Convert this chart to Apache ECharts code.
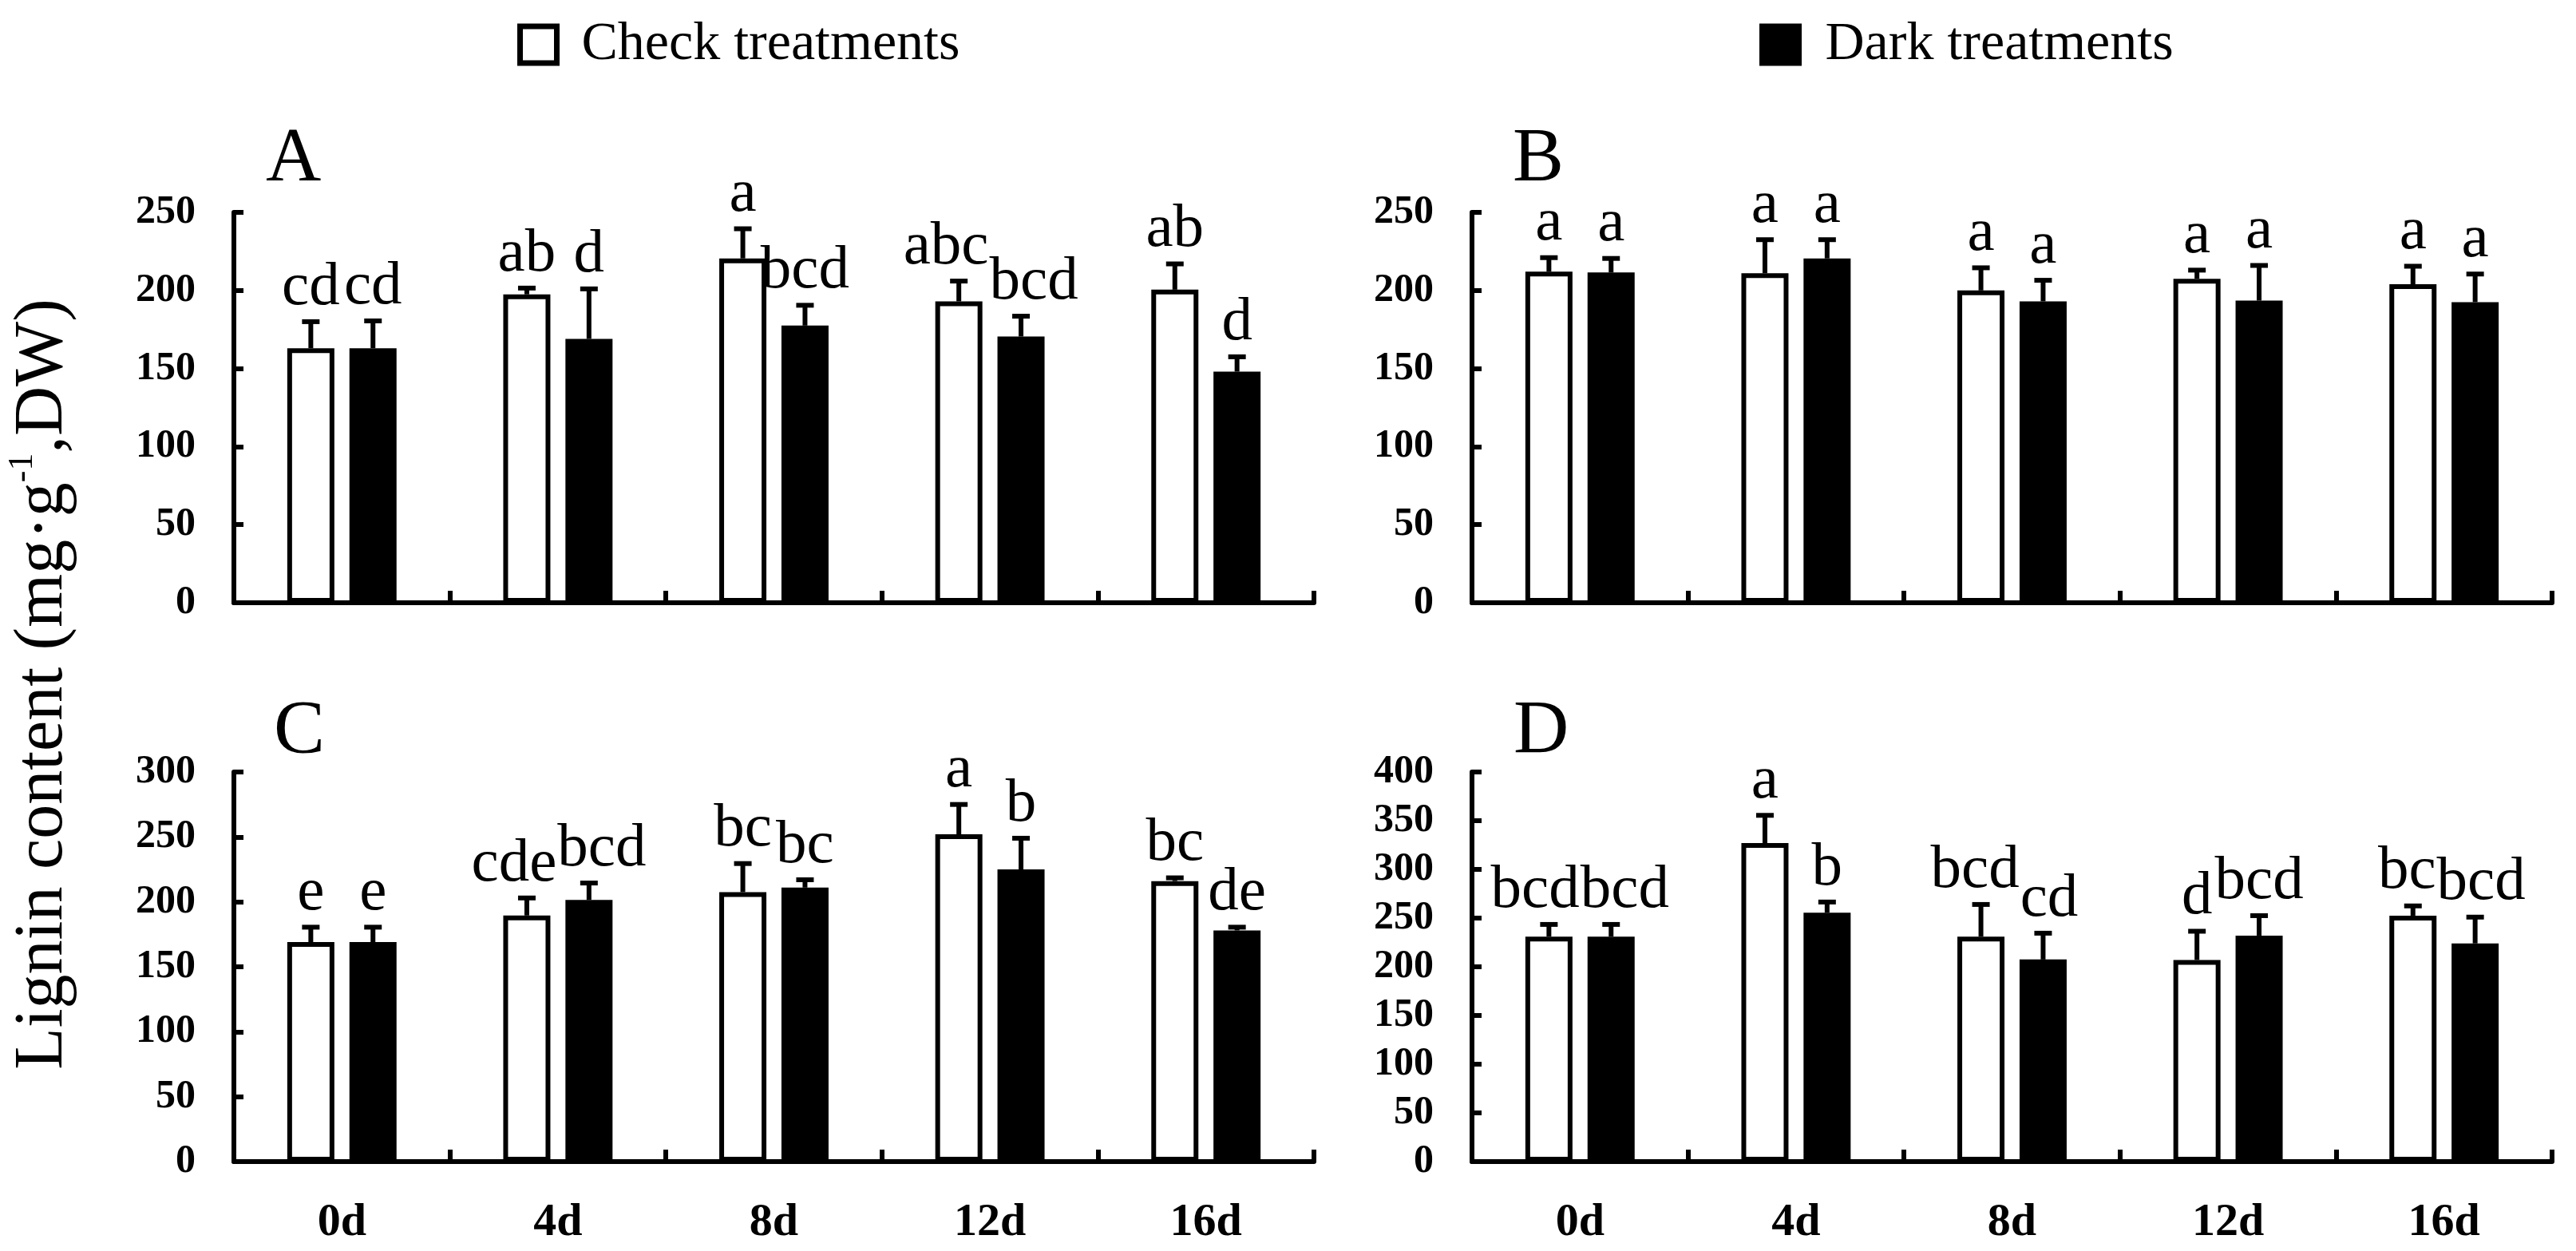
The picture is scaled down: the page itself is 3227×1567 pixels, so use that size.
<!DOCTYPE html>
<html>
<head>
<meta charset="utf-8">
<script src="https://cdn.jsdelivr.net/npm/echarts@6/dist/echarts.min.js"></script>
<style>
html,body{margin:0;padding:0;background:#fff;}
#chart{width:3227px;height:1567px;}
</style>
</head>
<body>
<div id="chart"></div>
<script>
// ---------------- data ----------------
const categories = ['0d', '4d', '8d', '12d', '16d'];
const seriesNames = ['Check treatments', 'Dark treatments'];

// Panel A
const checkA = [163, 197.5, 220.5, 193, 200.5];
const checkErrA = [17, 4, 19, 13, 16.5];
const checkLblA = ['cd', 'ab', 'a', 'abc', 'ab'];
const darkA = [163, 169, 177.5, 170.5, 148];
const darkErrA = [17.5, 32, 13, 13, 9.5];
const darkLblA = ['cd', 'd', 'bcd', 'bcd', 'd'];

// Panel B
const checkB = [212, 211, 200, 207.5, 204];
const checkErrB = [9, 21.5, 14.5, 5.5, 11.5];
const checkLblB = ['a', 'a', 'a', 'a', 'a'];
const darkB = [211.5, 220.5, 193, 193.5, 192.5];
const darkErrB = [9, 12, 13.5, 22.5, 18];
const darkLblB = ['a', 'a', 'a', 'a', 'a'];

// Panel C
const checkC = [169, 189.5, 207.5, 252, 216];
const checkErrC = [11.5, 13.5, 22, 23, 2.5];
const checkLblC = ['e', 'cde', 'bc', 'a', 'bc'];
const darkC = [169, 201.5, 211, 225, 178];
const darkErrC = [11.5, 13, 6, 24, 2.5];
const darkLblC = ['e', 'bcd', 'bc', 'b', 'de'];

// Panel D
const checkD = [231, 327, 231, 207, 252.5];
const checkErrD = [12.5, 28.5, 33, 29.5, 10];
const checkLblD = ['bcd', 'a', 'bcd', 'd', 'bc'];
const darkD = [231, 255.5, 207.5, 232, 224];
const darkErrD = [12.5, 11, 27, 20.5, 27];
const darkLblD = ['bcd', 'b', 'cd', 'bcd', 'bcd'];

const panelLetters = ['A', 'B', 'C', 'D'];
const yMax = [250, 250, 300, 400];
const yInterval = 50;
const yAxisTitle = ['Lignin content (mg·g', '-1', ',DW)'];

// ---------------- style constants ----------------
const FONT = '"Liberation Serif", "Times New Roman", serif';
const BAR_W = 59;
const BAR_GAP = 0.32;
const CAP = 22;
const LW = 6;
const LBL_SIZE = 77;

const panels = [
  {c: checkA, ce: checkErrA, cl: checkLblA, d: darkA, de: darkErrA, dl: darkLblA},
  {c: checkB, ce: checkErrB, cl: checkLblB, d: darkB, de: darkErrB, dl: darkLblB},
  {c: checkC, ce: checkErrC, cl: checkLblC, d: darkC, de: darkErrC, dl: darkLblC},
  {c: checkD, ce: checkErrD, cl: checkLblD, d: darkD, de: darkErrD, dl: darkLblD}
];

const gridPos = [
  {left: 293, top: 266, width: 1353, height: 489},
  {left: 1844, top: 266, width: 1353, height: 489},
  {left: 293, top: 967, width: 1353, height: 488},
  {left: 1844, top: 967, width: 1353, height: 488}
];
const letterPos = [[333, 249], [1895, 249], [343, 966], [1896, 966]];

const measureCtx = document.createElement('canvas').getContext('2d');
function textW(t) {
  measureCtx.font = LBL_SIZE + 'px ' + FONT;
  return measureCtx.measureText(t).width;
}

const grids = [], xAxes = [], yAxes = [], series = [], graphics = [];

panels.forEach((p, gi) => {
  grids.push(Object.assign({containLabel: false}, gridPos[gi]));
  const bottom = gi >= 2;
  xAxes.push({
    gridIndex: gi, type: 'category', data: categories,
    axisLine: {show: true, lineStyle: {color: '#000', width: LW}},
    axisTick: {show: true, inside: true, length: 15, lineStyle: {color: '#000', width: LW}},
    axisLabel: {show: bottom, fontFamily: FONT, fontWeight: 'bold', fontSize: 58, color: '#000', margin: 48},
    splitLine: {show: false}
  });
  yAxes.push({
    gridIndex: gi, type: 'value', min: 0, max: yMax[gi], interval: yInterval,
    axisLine: {show: true, lineStyle: {color: '#000', width: LW}},
    axisTick: {show: true, inside: true, length: 12, lineStyle: {color: '#000', width: LW}},
    axisLabel: {fontFamily: FONT, fontWeight: 'bold', fontSize: 50, color: '#000', margin: 48},
    splitLine: {show: false}
  });
  series.push({
    name: seriesNames[0], type: 'bar', xAxisIndex: gi, yAxisIndex: gi,
    data: p.c, barWidth: BAR_W, barGap: (BAR_GAP * 100) + '%',
    itemStyle: {color: '#fff', borderColor: '#000', borderWidth: LW},
    silent: true
  });
  series.push({
    name: seriesNames[1], type: 'bar', xAxisIndex: gi, yAxisIndex: gi,
    data: p.d, barWidth: BAR_W, barGap: (BAR_GAP * 100) + '%',
    itemStyle: {color: '#000', borderColor: '#000', borderWidth: 4},
    silent: true
  });
  series.push({
    type: 'custom', xAxisIndex: gi, yAxisIndex: gi, z: 10, silent: true,
    data: categories.map((c, i) => [i, p.c[i], p.ce[i], p.d[i], p.de[i]]),
    encode: {x: 0, y: 1},
    renderItem: function (params, api) {
      const i = api.value(0);
      const off = (BAR_W + BAR_W * BAR_GAP) / 2;
      const items = [
        [api.value(1), api.value(2), -off, p.cl[i]],
        [api.value(3), api.value(4), off, p.dl[i]]
      ];
      const children = [];
      const labels = [];
      items.forEach(it => {
        const base = api.coord([i, it[0]]);
        const top = api.coord([i, it[0] + it[1]]);
        const x = base[0] + it[2];
        children.push({type: 'line', shape: {x1: x, y1: base[1], x2: x, y2: top[1]},
          style: {stroke: '#000', lineWidth: LW}});
        children.push({type: 'line', shape: {x1: x - CAP / 2, y1: top[1], x2: x + CAP / 2, y2: top[1]},
          style: {stroke: '#000', lineWidth: LW}});
        labels.push({x: x, y: top[1] - 4, w: textW(it[3]), t: it[3]});
      });
      const a = labels[0], b = labels[1];
      const overlap = (a.x + a.w / 2) - (b.x - b.w / 2) + 1;
      if (overlap > 0 && Math.abs(a.y - b.y) < LBL_SIZE * 0.7) {
        a.x -= overlap / 2;
        b.x += overlap / 2;
      }
      labels.forEach(l => {
        children.push({type: 'text', style: {text: l.t, x: l.x, y: l.y, align: 'center', verticalAlign: 'bottom',
          fontFamily: FONT, fontSize: LBL_SIZE, fill: '#000'}});
      });
      return {type: 'group', children: children};
    }
  });
  graphics.push({
    type: 'text', x: letterPos[gi][0], y: letterPos[gi][1],
    style: {text: panelLetters[gi], fontFamily: FONT, fontSize: 96, fill: '#000',
      align: 'left', verticalAlign: 'bottom'}
  });
});

graphics.push({
  type: 'text', x: 54, y: 857, rotation: Math.PI / 2,
  style: {
    text: '{n|' + yAxisTitle[0] + '}{s|' + yAxisTitle[1] + '}{n|' + yAxisTitle[2] + '}',
    align: 'center', verticalAlign: 'middle',
    rich: {
      n: {fontFamily: FONT, fontSize: 86, fill: '#000', lineHeight: 96},
      s: {fontFamily: FONT, fontSize: 44, fill: '#000', verticalAlign: 'top', lineHeight: 96}
    }
  }
});

const legendBase = {
  orient: 'horizontal', itemWidth: 46, itemHeight: 46, icon: 'rect', selectedMode: false,
  textStyle: {fontFamily: FONT, fontSize: 68, color: '#000'}
};

const option = {
  backgroundColor: '#fff',
  animation: false,
  grid: grids,
  xAxis: xAxes,
  yAxis: yAxes,
  legend: [
    Object.assign({}, legendBase, {data: [seriesNames[0]], left: 643, top: 17,
      itemStyle: {color: '#fff', borderColor: '#000', borderWidth: 7},
      textStyle: Object.assign({}, legendBase.textStyle, {padding: [0, 0, 0, 26]})}),
    Object.assign({}, legendBase, {data: [seriesNames[1]], left: 2199, top: 17,
      itemStyle: {color: '#000', borderColor: '#000', borderWidth: 7},
      textStyle: Object.assign({}, legendBase.textStyle, {padding: [0, 0, 0, 28]})})
  ],
  graphic: graphics,
  series: series
};

const chart = echarts.init(document.getElementById('chart'));
chart.setOption(option);
</script>
</body>
</html>
